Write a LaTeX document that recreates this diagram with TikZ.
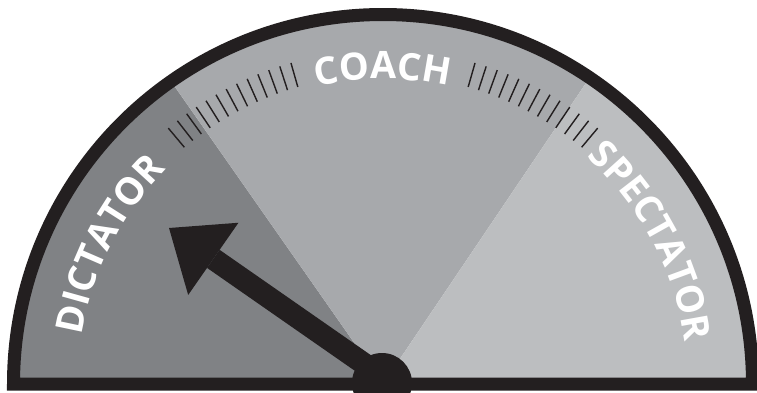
\documentclass[tikz,border=0pt]{standalone}
\usepackage{fontspec}
\setmainfont{Open Sans}
\usetikzlibrary{calc,arrows.meta,decorations.text}

\definecolor{gaugeblack}{HTML}{231F20}
\definecolor{dictgray}{HTML}{808285}
\definecolor{coachgray}{HTML}{A7A9AC}
\definecolor{specgray}{HTML}{BCBEC0}

\begin{document}
\begin{tikzpicture}[
  rim/.style={draw=gaugeblack, line width=0.26cm, line join=miter},
  tick/.style={draw=gaugeblack, line width=0.8pt},
  needle/.style={draw=gaugeblack, line width=0.44cm, -{Triangle[length=1.08cm, width=1.76cm, line width=0pt]}},
  arclabel/.style={decorate, decoration={text along path, text align=center,
    text={|\color{white}\fontsize{21.5}{26}\selectfont\bfseries|#1}}}
]
\useasboundingbox (0,0) rectangle (15.14,7.84);
\coordinate (c) at (7.66,0.16);

% --- Sectors: dictator on the left, coach in the middle, spectator on the right ---
\fill[dictgray]  (c) -- ++(180:7.3) arc (180:125:7.3) -- cycle;
\fill[coachgray] (c) -- ++(125:7.3) arc (125:56:7.3) -- cycle;
\fill[specgray]  (c) -- ++(56:7.3) arc (56:0:7.3) -- cycle;

% --- Scale ticks on both sides of COACH ---
\foreach \a in {50,52,...,74,106,108,...,130}
  \draw[tick] ($(c)+(\a:6.18)$) -- ($(c)+(\a:6.68)$);

% --- Curved labels ---
\path[arclabel=DICTATOR]  ($(c)+(180:6.1)$) arc (180:126:6.1);
\path[arclabel=COACH]     ($(c)+(110:6.1)$) arc (110:70:6.1);
\path[arclabel=SPECTATOR] ($(c)+(54:6.1)$)  arc (54:2:6.1);

% --- Needle and hub ---
\coordinate (pivot) at (7.66,0.30);
\coordinate (tip) at (3.38,3.28);
\draw[needle] (pivot) -- (tip);
\fill[gaugeblack] (7.64,0.18) circle (0.6);

% --- Rim ---
\draw[rim] ($(c)+(180:7.39)$) arc (180:0:7.39) -- cycle;

\end{tikzpicture}
\end{document}
